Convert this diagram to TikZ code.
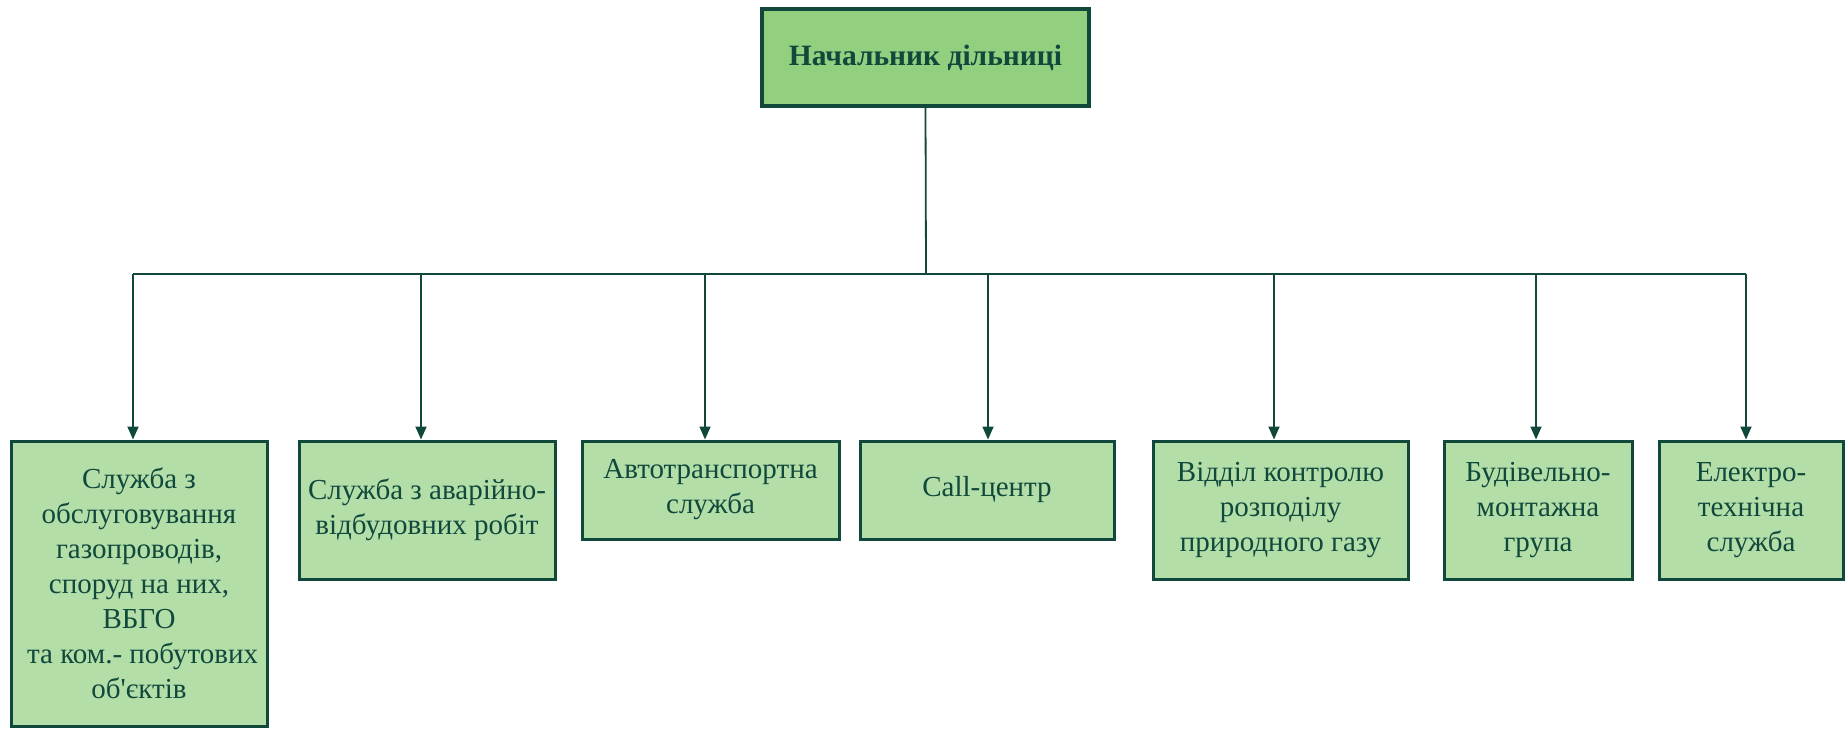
\documentclass[tikz,border=0pt]{standalone}
\usepackage{fontspec}
\setmainfont{Liberation Serif}
\usetikzlibrary{arrows.meta}
\definecolor{edgec}{RGB}{16,72,60}
\definecolor{topfill}{RGB}{146,208,128}
\definecolor{boxfill}{RGB}{180,222,168}
\begin{document}
\begin{tikzpicture}[x=1pt,y=-1pt,
  box/.style={draw=edgec, line width=3pt, fill=boxfill, text=edgec, align=center,
    inner sep=0pt, font=\fontsize{29}{35}\selectfont},
  topbox/.style={box, line width=4pt, fill=topfill, font=\fontsize{29.5}{35}\selectfont\bfseries},
  conn/.style={draw=edgec, line width=1.8pt},
  arr/.style={conn, -{Triangle[width=11pt,length=13pt]}}]
\useasboundingbox (0,0) rectangle (1845,729);
\node[topbox, minimum width=327, minimum height=97] (top) at (925.5,57.5) {Начальник дільниці};
\node[box, minimum width=256, minimum height=285] (b1) at (139,583.5)
  {Служба з\\обслуговування\\газопроводів,\\споруд на них,\\ВБГО\\\ та ком.- побутових\\об\textquotesingle єктів};
\node[box, minimum width=256, minimum height=138] (b2) at (427,510)
  {Служба з аварійно-\\відбудовних робіт};
\node[box, minimum width=257, minimum height=98] (b3) at (710.5,490)
  {Автотранспортна\\служба};
\node[box, minimum width=254, minimum height=98] (b4) at (987,490)
  {Call-центр};
\node[box, minimum width=255, minimum height=138] (b5) at (1280.5,510)
  {Відділ контролю\\розподілу\\природного газу};
\node[box, minimum width=188, minimum height=138] (b6) at (1538,510)
  {Будівельно-\\монтажна\\група};
\node[box, minimum width=184, minimum height=138] (b7) at (1751,510)
  {Електро-\\технічна\\служба};
\coordinate (bus) at (926,274);
\draw[conn] (top.south) -- (bus);
\draw[conn] ([xshift=-6pt]bus -| b1.north) -- ([xshift=-5pt]bus -| b7.north);
\foreach \b/\s in {b1/-6,b2/-6,b3/-5.5,b4/1,b5/-6.5,b6/-2,b7/-5}
  \draw[arr] ([xshift=\s pt]bus -| \b.north) -- ([xshift=\s pt]\b.north);
\end{tikzpicture}
\end{document}
